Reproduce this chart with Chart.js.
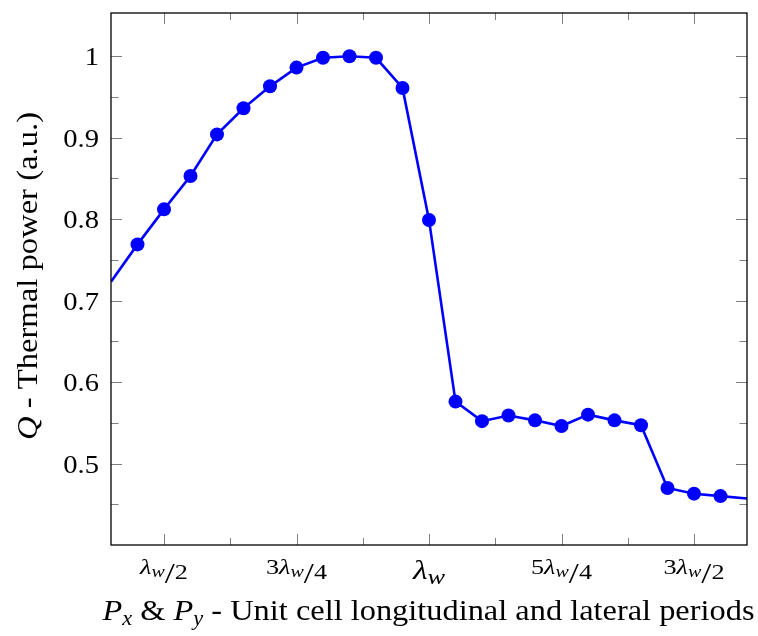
<!DOCTYPE html>
<html>
<head>
<meta charset="utf-8">
<script src="https://cdn.jsdelivr.net/npm/chart.js@4"></script>
<style>
  html, body { margin: 0; padding: 0; background: #fff; }
  canvas { display: block; }
</style>
</head>
<body>
<canvas id="thermalChart" width="758" height="636"></canvas>
<script>
// periods in units of lambda_w, and the thermal power
const periods = [0.40, 0.45, 0.50, 0.55, 0.60, 0.65, 0.70, 0.75, 0.80, 0.85, 0.90, 0.95,
                 1.00, 1.05, 1.10, 1.15, 1.20, 1.25, 1.30, 1.35, 1.40, 1.45, 1.50, 1.55, 1.60];
const thermalPower = [0.723, 0.769, 0.812, 0.853, 0.904, 0.936, 0.963, 0.986, 0.998, 1.000, 0.998, 0.961,
                      0.799, 0.576, 0.552, 0.559, 0.553, 0.546, 0.560, 0.553, 0.547, 0.470, 0.463, 0.460, 0.457];

// x ticks: coefficient and denominator of  c*lambda_w/d
const xTickValues = [0.5, 0.75, 1, 1.25, 1.5];
const xTickCoef = ['', '3', '', '5', '3'];
const xTickDen = ['2', '4', '', '4', '2'];
const xMinorTicks = [0.625, 0.875, 1.125, 1.375];

const yTickValues = [0.5, 0.6, 0.7, 0.8, 0.9, 1];
const yTickLabels = ['0.5', '0.6', '0.7', '0.8', '0.9', '1'];
const yMinorTicks = [0.45, 0.55, 0.65, 0.75, 0.85, 0.95];

const SERIF = '"Liberation Serif", "Times New Roman", Tinos, Times, serif';

function f(size, italic) {
    return (italic ? 'italic ' : '') + size + 'px ' + SERIF;
}

function runsWidth(ctx, runs) {
    let total = 0;
    runs.forEach(function(r) {
        ctx.font = r.font;
        r.w = ctx.measureText(r.text).width;
        total += r.w;
    });
    return total;
}

// draws a line of mixed text pieces (italic, subscripts) centred on x
function drawRuns(ctx, runs, x, y, sx) {
    const total = runsWidth(ctx, runs);
    ctx.save();
    ctx.translate(x, y);
    ctx.scale(sx || 1, 1);
    ctx.textAlign = 'left';
    ctx.textBaseline = 'alphabetic';
    let cx = -total / 2;
    runs.forEach(function(r) {
        ctx.font = r.font;
        ctx.fillText(r.text, cx, r.dy || 0);
        cx += r.w;
    });
    ctx.restore();
}

function drawRunsFit(ctx, runs, x, y, width) {
    const total = runsWidth(ctx, runs);
    drawRuns(ctx, runs, x, y, width / total);
}

const pgfAxes = {
    id: 'pgfAxes',
    beforeDatasetsDraw(chart) {
        const ctx = chart.ctx;
        const a = chart.chartArea;
        const xs = chart.scales.x, ys = chart.scales.y;
        ctx.save();
        ctx.strokeStyle = 'rgba(0,0,0,0.5)';
        ctx.lineWidth = 1;
        ctx.beginPath();
        function yTick(v, len) {
            const py = Math.round(ys.getPixelForValue(v)) + 0.5;
            ctx.moveTo(a.left, py); ctx.lineTo(a.left + len, py);
            ctx.moveTo(a.right, py); ctx.lineTo(a.right - len, py);
        }
        function xTick(v, len) {
            const px = Math.round(xs.getPixelForValue(v)) + 0.5;
            ctx.moveTo(px, a.bottom); ctx.lineTo(px, a.bottom - len);
            ctx.moveTo(px, a.top); ctx.lineTo(px, a.top + len);
        }
        yTickValues.forEach(v => yTick(v, 11));
        yMinorTicks.forEach(v => yTick(v, 7.5));
        xTickValues.forEach(v => xTick(v, 11));
        xMinorTicks.forEach(v => xTick(v, 7));
        ctx.stroke();
        ctx.restore();
    },
    afterDatasetsDraw(chart) {
        const ctx = chart.ctx;
        const a = chart.chartArea;
        const xs = chart.scales.x, ys = chart.scales.y;
        ctx.save();
        ctx.strokeStyle = '#000';
        ctx.lineWidth = 1.3;
        ctx.strokeRect(a.left, a.top, a.right - a.left, a.bottom - a.top);

        ctx.fillStyle = '#000';
        ctx.textAlign = 'right';
        ctx.textBaseline = 'alphabetic';
        yTickValues.forEach(function(v, i) {
            const py = ys.getPixelForValue(v);
            ctx.save();
            ctx.translate(99, py + 9);
            ctx.scale(1.1, 1);
            ctx.font = f(26);
            ctx.fillText(yTickLabels[i], 0, 0);
            ctx.restore();
        });

        xTickValues.forEach(function(v, i) {
            const px = xs.getPixelForValue(v);
            let runs;
            if (xTickDen[i]) {
                runs = [
                    { text: xTickCoef[i], font: f(21), dy: -5 },
                    { text: 'λ', font: f(21, true), dy: -5 },
                    { text: 'w', font: f(16, true), dy: -1.5 },
                    { text: '/', font: f(29), dy: 4 },
                    { text: xTickDen[i], font: f(21), dy: 0 }
                ];
            } else {
                runs = [
                    { text: 'λ', font: f(27, true), dy: 0 },
                    { text: 'w', font: f(21, true), dy: 5 }
                ];
            }
            drawRuns(ctx, runs, px, 578.5, 1.25);
        });

        // axis titles
        drawRunsFit(ctx, [
            { text: 'P', font: f(29, true) },
            { text: 'x', font: f(20, true), dy: 5 },
            { text: ' & ', font: f(29) },
            { text: 'P', font: f(29, true) },
            { text: 'y', font: f(20, true), dy: 5 },
            { text: ' - Unit cell longitudinal and lateral periods', font: f(29) }
        ], 428.5, 620, 652);

        ctx.save();
        ctx.translate(37, 276);
        ctx.rotate(-Math.PI / 2);
        drawRunsFit(ctx, [
            { text: 'Q', font: f(29, true) },
            { text: ' - Thermal power (a.u.)', font: f(29) }
        ], 0, 0, 328);
        ctx.restore();
        ctx.restore();
    }
};

const ctx = document.getElementById('thermalChart').getContext('2d');
const thermalChart = new Chart(ctx, {
    type: 'line',
    data: {
        datasets: [{
            data: periods.map((p, i) => ({ x: p, y: thermalPower[i] })),
            borderColor: '#0000ff',
            backgroundColor: '#0000ff',
            borderWidth: 2.6,
            tension: 0,
            clip: 0,
            // the two end points sit on the frame, their marks are cut away
            pointRadius: c => (c.dataIndex === 0 || c.dataIndex === periods.length - 1) ? 0 : 7,
            pointHoverRadius: c => (c.dataIndex === 0 || c.dataIndex === periods.length - 1) ? 0 : 7,
            pointBorderWidth: 0
        }]
    },
    options: {
        responsive: false,
        animation: false,
        events: [],
        layout: { padding: { left: 111, top: 13, right: 11, bottom: 91 } },
        plugins: { legend: { display: false }, tooltip: { enabled: false } },
        scales: {
            x: { type: 'linear', min: 0.4, max: 1.6, display: false },
            y: { type: 'linear', min: 0.4, max: 1.053, display: false }
        }
    },
    plugins: [pgfAxes]
});
</script>
</body>
</html>
